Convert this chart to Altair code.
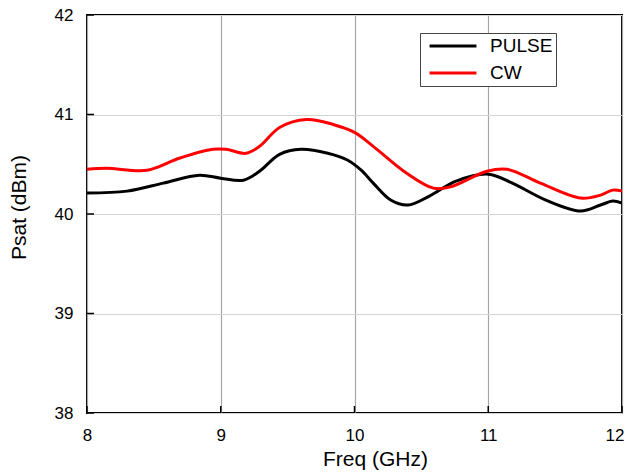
import altair as alt
import pandas as pd

pulse_freq = [8.0, 8.3, 8.57, 8.84, 9.0, 9.17, 9.29, 9.44, 9.6, 9.8, 9.95, 10.05, 10.14,
              10.27, 10.4, 10.56, 10.76, 11.0, 11.18, 11.43, 11.69, 11.84, 11.93, 12.0]
pulse_psat = [40.21, 40.23, 40.31, 40.39, 40.36, 40.34, 40.43, 40.60, 40.65, 40.61, 40.54, 40.44, 40.31,
              40.14, 40.09, 40.18, 40.33, 40.40, 40.31, 40.14, 40.03, 40.09, 40.13, 40.11]

cw_freq = [8.0, 8.15, 8.45, 8.69, 8.94, 9.04, 9.19, 9.29, 9.44, 9.64, 9.84, 10.0, 10.14,
           10.39, 10.59, 10.71, 10.99, 11.14, 11.39, 11.69, 11.84, 11.93, 12.0]
cw_psat = [40.45, 40.46, 40.44, 40.56, 40.65, 40.65, 40.61, 40.68, 40.87, 40.95, 40.90, 40.82, 40.68,
           40.41, 40.26, 40.27, 40.43, 40.45, 40.31, 40.16, 40.19, 40.24, 40.23]

series_names = ["PULSE", "CW"]
series_colors = ["#000000", "#ff0000"]
x_ticks = [8, 9, 10, 11, 12]
y_ticks = [38, 39, 40, 41, 42]

df = pd.concat([
    pd.DataFrame({"freq": pulse_freq, "psat": pulse_psat, "series": "PULSE"}),
    pd.DataFrame({"freq": cw_freq, "psat": cw_psat, "series": "CW"}),
])
xt = pd.DataFrame({"v": x_ticks})
yt = pd.DataFrame({"v": y_ticks})

W, H = 535, 398
FONT = "Liberation Sans"

xscale = alt.Scale(domain=[8, 12], nice=False, zero=False)
yscale = alt.Scale(domain=[38, 42], nice=False, zero=False)

lines = alt.Chart(df).mark_line(strokeWidth=3, interpolate="catmull-rom", clip=True).encode(
    x=alt.X("freq:Q", scale=xscale,
            axis=alt.Axis(title="Freq (GHz)", values=x_ticks, format="d", ticks=False, domain=False,
                          grid=True, gridColor="#a6a6a6", gridWidth=1.2, labelFlush=False,
                          labelAlign={"condition": {"test": "datum.value == 12", "value": "right"},
                                      "value": "center"},
                          labelOffset={"condition": {"test": "datum.value == 12", "value": 2},
                                       "value": 0},
                          labelPadding=14, titlePadding=5, titleX=288, titleAlign="center")),
    y=alt.Y("psat:Q", scale=yscale,
            axis=alt.Axis(title="Psat (dBm)", values=y_ticks, format="d", ticks=False, domain=False,
                          grid=True, gridColor="#d4d4d4", gridWidth=1.2, labelFlush=False,
                          labelPadding=14, titlePadding=25, titleY=192, titleAlign="center")),
    color=alt.Color("series:N", scale=alt.Scale(domain=series_names, range=series_colors),
                    legend=alt.Legend(orient="none", legendX=333, legendY=18, title=None,
                                      symbolType="stroke", symbolStrokeWidth=3, symbolSize=2200,
                                      symbolOffset=5, clipHeight=20,
                                      labelFontSize=19, labelFont=FONT, labelColor="black",
                                      labelExpr="datum.label + '\u00a0'",
                                      strokeColor="#444", fillColor="white", padding=3,
                                      rowPadding=7, labelOffset=12)),
)

xtick_marks = alt.Chart(xt).mark_rule(color="black", strokeWidth=1.5).encode(
    x=alt.X("v:Q", scale=xscale), y=alt.value(H), y2=alt.value(H - 7))
ytick_marks = alt.Chart(yt).mark_rule(color="black", strokeWidth=1.5).encode(
    y=alt.Y("v:Q", scale=yscale), x=alt.value(0), x2=alt.value(7))

chart = alt.layer(lines, xtick_marks, ytick_marks).properties(
    width=W, height=H, autosize=alt.AutoSizeParams(type="none"),
    padding={"left": 79, "top": 7, "right": 3, "bottom": 60},
    background="white",
).configure_view(stroke="black", strokeWidth=2).configure_axis(
    labelFont=FONT, labelFontSize=17, labelColor="black",
    titleFont=FONT, titleFontSize=21, titleFontWeight="normal", titleColor="black",
)

chart.save("out.html", embed_options={"renderer": "svg", "actions": False})
